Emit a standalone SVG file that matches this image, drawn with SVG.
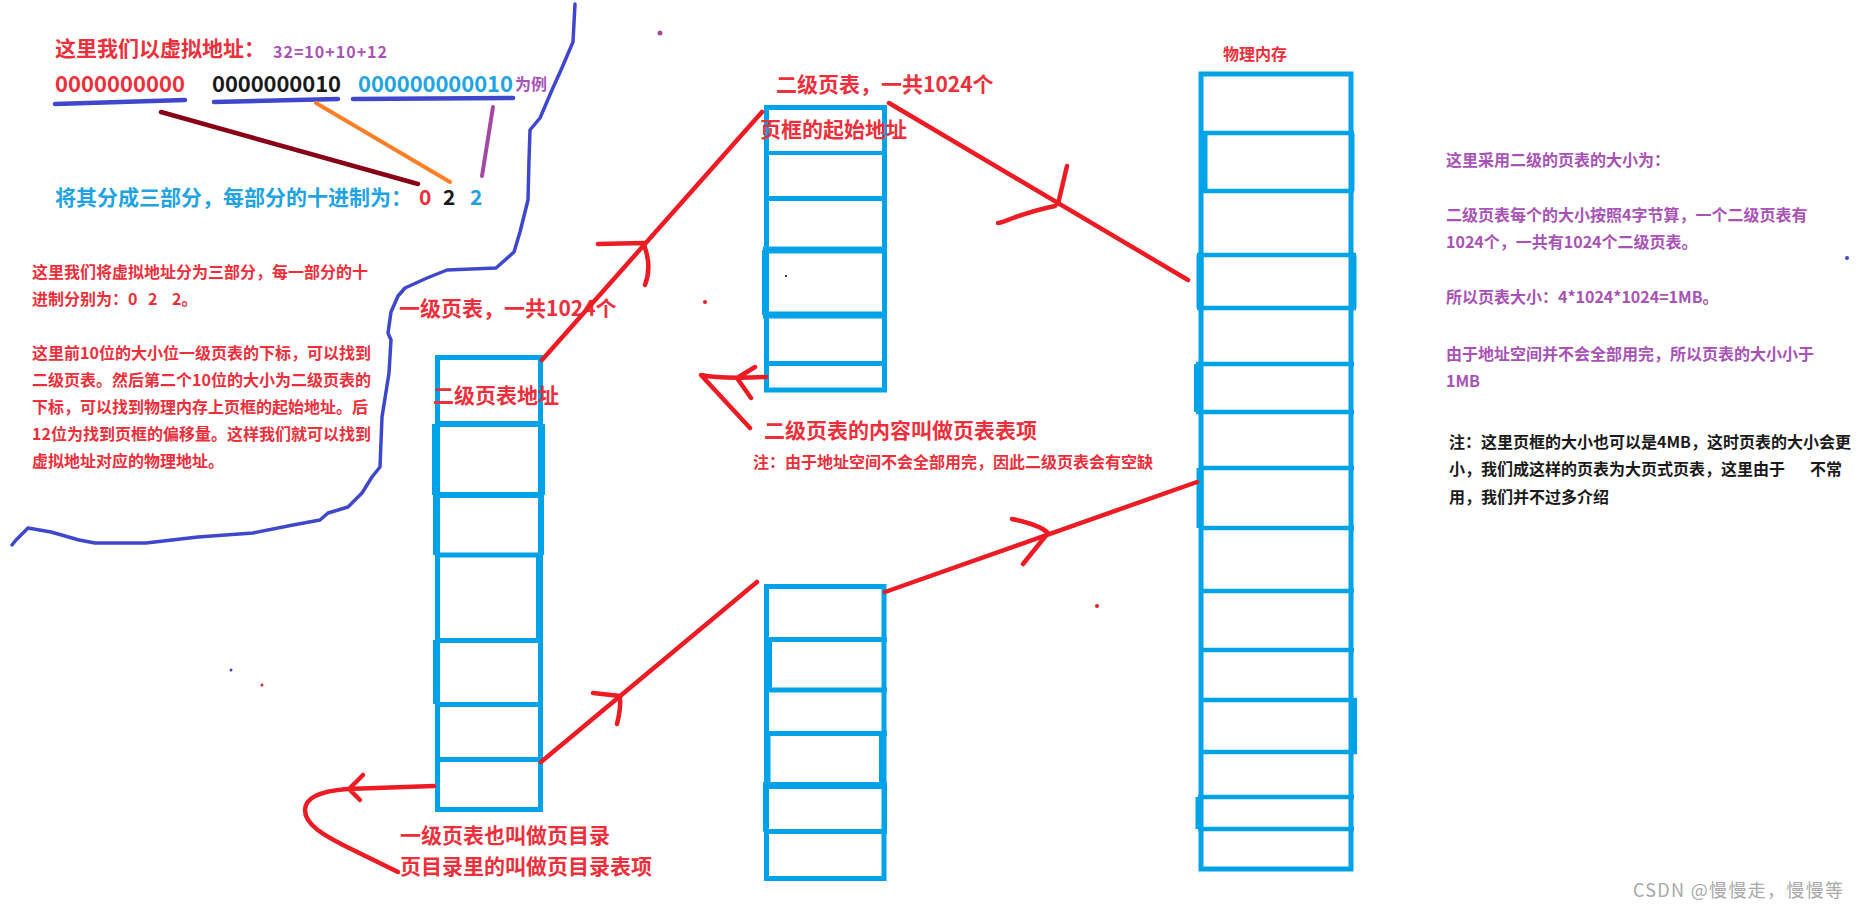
<svg xmlns="http://www.w3.org/2000/svg" width="1859" height="910" viewBox="0 0 1859 910">
<style>
.t{font-family:'Noto Sans CJK SC','Noto Sans',sans-serif;font-weight:bold}
.red{fill:#ec2f3b}
.blu{fill:#1fa3e3}
.pur{fill:#a852b6}
.blk{fill:#1a1a1a}
.cell{fill:none;stroke:#00a2e8;stroke-width:5}
.bl{fill:none;stroke:#00a2e8}
.rl{fill:none;stroke:#ed1c24;stroke-width:4.5;stroke-linecap:round;stroke-linejoin:round}
.ul{fill:none;stroke:#3f48cc;stroke-width:4.5;stroke-linecap:round}
</style>
<rect width="1859" height="910" fill="#ffffff"/>

<g id="address-header">
  <text class="t red" x="55" y="56" font-size="21">这里我们以虚拟地址：</text>
  <text class="t pur" x="273" y="58" font-size="16" textLength="114">32=10+10+12</text>
  <text class="t red" x="55" y="92" font-size="22" textLength="130">0000000000</text>
  <text class="t blk" x="212" y="92" font-size="22" textLength="129">0000000010</text>
  <text class="t blu" x="358" y="92" font-size="22" textLength="155">000000000010</text>
  <text class="t pur" x="515" y="90" font-size="16">为例</text>
  <text class="t blu" x="55" y="205" font-size="21">将其分成三部分，每部分的十进制为：</text>
  <text class="t red" x="419" y="205" font-size="21">0</text>
  <text class="t blk" x="443" y="205" font-size="21">2</text>
  <text class="t blu" x="470" y="205" font-size="21">2</text>
</g>

<g id="explanation">
  <text class="t red" x="32" y="278" font-size="16">这里我们将虚拟地址分为三部分，每一部分的十</text>
  <text class="t red" y="305" font-size="16"><tspan x="32">进制分别为：</tspan><tspan x="128">0</tspan><tspan x="148">2</tspan><tspan x="172">2。</tspan></text>
  <text class="t red" x="32" y="359" font-size="16">这里前10位的大小位一级页表的下标，可以找到</text>
  <text class="t red" x="32" y="386" font-size="16">二级页表。然后第二个10位的大小为二级页表的</text>
  <text class="t red" x="32" y="413" font-size="16">下标，可以找到物理内存上页框的起始地址。后</text>
  <text class="t red" x="32" y="440" font-size="16">12位为找到页框的偏移量。这样我们就可以找到</text>
  <text class="t red" x="32" y="467" font-size="16">虚拟地址对应的物理地址。</text>
</g>

<g id="level1-table">
  <rect class="cell" x="437.5" y="357.5" width="103" height="452"/>
  <path class="bl" stroke-width="6" d="M435,424H543M435,495H543"/>
  <path class="bl" stroke-width="5" d="M435,555H543M435,640.5H543M435,704.5H543M435,759.5H543"/>
  <path class="bl" stroke-width="7" d="M435.5,424V495M541.5,424V495"/>
  <path class="bl" stroke-width="6" d="M436,495V555M541,495V555M539,555V640M436,640V704"/>
  <text class="t red" x="433" y="403" font-size="21">二级页表地址</text>
  <text class="t red" x="399" y="316" font-size="21">一级页表，一共1024个</text>
  <text class="t red" x="400" y="843" font-size="21">一级页表也叫做页目录</text>
  <text class="t red" x="400" y="874" font-size="21">页目录里的叫做页目录表项</text>
</g>

<g id="level2-table-upper">
  <rect class="cell" x="766.5" y="107.5" width="118" height="282.5"/>
  <path class="bl" stroke-width="4" d="M764,153H887"/>
  <path class="bl" stroke-width="5" d="M764,198.5H887M764,363.5H887"/>
  <path class="bl" stroke-width="7" d="M763,250H887M763,315H887M765.5,250V315"/>
  <text class="t red" x="776" y="92" font-size="21">二级页表，一共1024个</text>
  <text class="t red" x="760" y="137" font-size="21">页框的起始地址</text>
  <text class="t red" x="764" y="438" font-size="21">二级页表的内容叫做页表表项</text>
  <text class="t red" x="753" y="468" font-size="16">注：由于地址空间不会全部用完，因此二级页表会有空缺</text>
</g>

<g id="level2-table-lower">
  <rect class="cell" x="766.5" y="586.5" width="117.5" height="292"/>
  <path class="bl" stroke-width="5" d="M764,639.5H887M764,690H887M764,733.5H887M764,831.5H887"/>
  <path class="bl" stroke-width="7" d="M763,785.5H887"/>
  <path class="bl" stroke-width="5" d="M769.5,639.5V690M765.5,785.5V831.5M884.5,785.5V831.5"/>
  <path class="bl" stroke-width="3" d="M769,733.5V785.5M880.5,733.5V785.5"/>
</g>

<g id="physical-memory">
  <rect class="cell" x="1201" y="74" width="150" height="795"/>
  <path class="bl" stroke-width="4.5" d="M1199,133H1354M1199,191H1354M1197,255H1356M1197,308H1356M1196,364H1354M1196,412H1354M1199,468H1354M1199,528H1354M1199,591H1354M1199,650H1354M1199,700H1357M1199,752H1357M1198,797H1354M1198,829H1354"/>
  <path class="bl" stroke-width="5" d="M1205,133V191M1352,133V191"/>
  <path class="bl" stroke-width="7" d="M1200,255V308M1353,255V308M1200,468V528M1199,797V829"/>
  <path class="bl" stroke-width="8" d="M1198,364V412M1353,700V752"/>
  <text class="t red" x="1223" y="60" font-size="16">物理内存</text>
</g>

<g id="notes">
  <text class="t pur" x="1446" y="166" font-size="16">这里采用二级的页表的大小为：</text>
  <text class="t pur" x="1446" y="221" font-size="16">二级页表每个的大小按照4字节算，一个二级页表有</text>
  <text class="t pur" x="1446" y="248" font-size="16">1024个，一共有1024个二级页表。</text>
  <text class="t pur" x="1446" y="303" font-size="16">所以页表大小：4*1024*1024=1MB。</text>
  <text class="t pur" x="1446" y="360" font-size="16">由于地址空间并不会全部用完，所以页表的大小小于</text>
  <text class="t pur" x="1446" y="387" font-size="16">1MB</text>
  <text class="t blk" x="1449" y="448" font-size="16">注：这里页框的大小也可以是4MB，这时页表的大小会更</text>
  <text class="t blk" x="1449" y="475" font-size="16">小，我们成这样的页表为大页式页表，这里由于</text>
  <text class="t blk" x="1810" y="475" font-size="16">不常</text>
  <text class="t blk" x="1449" y="503" font-size="16">用，我们并不过多介绍</text>
  <text x="1633" y="897" font-size="18" fill="#a8a8a8" font-family="'Noto Sans CJK SC','Noto Sans',sans-serif" textLength="210">CSDN @慢慢走，慢慢等</text>
</g>

<g id="connectors">
  <path class="ul" d="M55,104L185,100M214,102L338,99M353,99L513,98"/>
  <path fill="none" stroke="#880015" stroke-width="4.5" stroke-linecap="round" d="M161,112L418,184"/>
  <path fill="none" stroke="#ff7f27" stroke-width="4" stroke-linecap="round" d="M316,103L450,182"/>
  <path fill="none" stroke="#a349a4" stroke-width="4" stroke-linecap="round" d="M493,107L482,176"/>
  <path fill="none" stroke="#3f48cc" stroke-width="3.5" stroke-linecap="round" stroke-linejoin="round" d="M575,4L573,42L561,70L552,90L540,118L530,130L529,160L528,200L520,232L514,252L496,268L447,270L427,278L405,288L398,296L391,312L388,333L391,340L389,373L382,417L380,467L372,477L362,493L348,507L328,513L320,520L293,525L253,533L198,537L146,543L95,543L79,540L51,532L28,528L16,540L12,545"/>
  <path class="rl" d="M542,360L762,112"/>
  <path class="rl" d="M598,244L644,243M644,245C649,258 650,272 645,285"/>
  <path class="rl" d="M889,103L1188,280"/>
  <path class="rl" d="M1067,166L1058,204M1055,206C1040,209 1027,213 1013,218C1005,221 1001,223 998,223"/>
  <path class="rl" d="M541,762L757,582"/>
  <path class="rl" d="M593,693L620,696M620,698C621,708 619,716 617,724"/>
  <path class="rl" d="M885,592L1197,482"/>
  <path class="rl" d="M1012,519C1027,522 1042,527 1048,533L1023,564"/>
  <path class="rl" d="M766,377C745,378 720,379 701,375L750,428M755,367L737,378L751,398"/>
  <path class="rl" d="M434,786L347,789C322,791 305,797 305,810C305,825 325,836 347,847L398,872M363,775L349,789L360,800"/>
  <circle cx="660" cy="33" r="2.5" fill="#a349a4"/>
  <circle cx="705" cy="302" r="2" fill="#ed1c24"/>
  <circle cx="786" cy="276" r="1" fill="#000000"/>
  <circle cx="1097" cy="606" r="2" fill="#ed1c24"/>
  <circle cx="1847" cy="258" r="2" fill="#3f48cc"/>
  <circle cx="231" cy="670" r="1.5" fill="#3f48cc"/>
  <circle cx="262" cy="685" r="1.5" fill="#ed1c24"/>
</g>
</svg>
